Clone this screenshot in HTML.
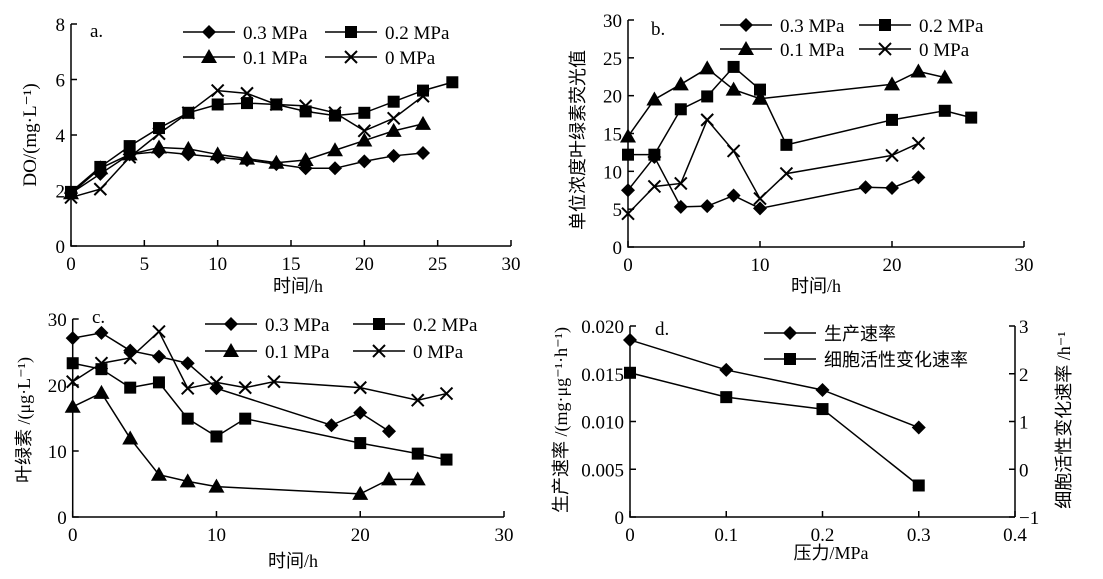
<!DOCTYPE html>
<html><head><meta charset="utf-8"><style>
body{margin:0;background:#fff}
svg text{font-family:"Liberation Serif","Noto Serif CJK SC",serif;fill:#000}
.cn{font-family:"Liberation Serif","Noto Sans CJK SC",sans-serif}
</style></head><body>
<svg id="c" width="1103" height="574" xmlns="http://www.w3.org/2000/svg"></svg>
<script>
// Panel a: DO
const aX_03=[0,2,4,6,8,10,12,14,16,18,20,22,24];
const aY_03=[1.9,2.6,3.3,3.4,3.3,3.2,3.1,2.95,2.8,2.8,3.05,3.25,3.35];
const aX_02=[0,2,4,6,8,10,12,14,16,18,20,22,24,26];
const aY_02=[1.95,2.85,3.6,4.25,4.8,5.1,5.15,5.1,4.85,4.7,4.8,5.2,5.6,5.9];
const aX_01=[0,2,4,6,8,10,12,14,16,18,20,22,24];
const aY_01=[1.9,2.8,3.3,3.55,3.5,3.3,3.15,3.0,3.1,3.45,3.8,4.15,4.4];
const aX_00=[0,2,4,6,8,10,12,14,16,18,20,22,24];
const aY_00=[1.75,2.05,3.2,4.05,4.8,5.6,5.5,5.1,5.05,4.8,4.15,4.6,5.4];
// Panel b
const bX_03=[0,2,4,6,8,10,18,20,22];
const bY_03=[7.5,11.9,5.3,5.4,6.8,5.1,7.9,7.8,9.2];
const bX_02=[0,2,4,6,8,10,12,20,24,26];
const bY_02=[12.2,12.2,18.2,19.9,23.8,20.8,13.5,16.8,18.0,17.1];
const bX_01=[0,2,4,6,8,10,20,22,24];
const bY_01=[14.6,19.5,21.5,23.6,20.8,19.6,21.5,23.2,22.4];
const bX_00=[0,2,4,6,8,10,12,20,22];
const bY_00=[4.4,8.0,8.4,16.8,12.7,6.4,9.7,12.1,13.7];
// Panel c
const cX_03=[0,2,4,6,8,10,18,20,22];
const cY_03=[27.1,27.9,25.2,24.3,23.3,19.5,13.9,15.8,13.0];
const cX_02=[0,2,4,6,8,10,12,20,24,26];
const cY_02=[23.3,22.4,19.6,20.4,14.9,12.2,14.9,11.2,9.6,8.7];
const cX_01=[0,2,4,6,8,10,20,22,24];
const cY_01=[16.7,18.8,11.9,6.4,5.4,4.6,3.5,5.7,5.7];
const cX_00=[0,2,4,6,8,10,12,14,20,24,26];
const cY_00=[20.5,23.3,24.1,28.1,19.5,20.4,19.6,20.5,19.6,17.7,18.7];
// Panel d
const dX=[0,0.1,0.2,0.3];
const dProd=[0.01854,0.0154,0.0133,0.00937];
const dAct=[2.02,1.51,1.26,-0.34];
// ticks
const aXT=[0,5,10,15,20,25,30], aYT=[0,2,4,6,8];
const bXT=[0,10,20,30], bYT=[0,5,10,15,20,25,30];
const cXT=[0,10,20,30], cYT=[0,10,20,30];
const dXT=[0,0.1,0.2,0.3,0.4], dYT=[0,0.005,0.010,0.015,0.020], dY2T=[-1,0,1,2,3];
const dXL=['0','0.1','0.2','0.3','0.4'], dYL=['0','0.005','0.010','0.015','0.020'];

const S=document.getElementById('c');const NS='http://www.w3.org/2000/svg';
const FS=19;
function el(t,a,p){const e=document.createElementNS(NS,t);for(const k in a)e.setAttribute(k,a[k]);(p||S).appendChild(e);return e;}
function txt(s,x,y,o,name){const e=el('text',Object.assign({x:x,y:y,'font-size':FS},o||{}));e.textContent=s;

return e;}
function lin(f){return (v)=>f.p0+(v-f.v0)*(f.p1-f.p0)/(f.v1-f.v0);}
function marker(g,type,x,y){let m;
 if(type==='d')m=el('polygon',{points:`${x},${y-7} ${x+7},${y} ${x},${y+7} ${x-7},${y}`},g);
 else if(type==='s')m=el('rect',{x:x-6,y:y-6,width:12,height:12},g);
 else if(type==='t')m=el('polygon',{points:`${x},${y-8} ${x+8},${y+6} ${x-8},${y+6}`},g);
 else {m=el('path',{d:`M${x-6},${y-6}L${x+6},${y+6}M${x+6},${y-6}L${x-6},${y+6}`,stroke:'#000','stroke-width':2},g);}
 
 
 if(type!=='x')m.setAttribute('fill','#000');}
function series(xs,ys,sx,sy,type,name){const g=el('g',{});
 
 
 el('polyline',{points:xs.map((v,i)=>sx(v)+','+sy(ys[i])).join(' '),fill:'none',stroke:'#000','stroke-width':1.5},g);
 xs.forEach((v,i)=>marker(g,type,sx(v),sy(ys[i])));}
function axes(x0,x1,y0,y1,sx,sy,xt,yt,xl,yl,pre){
 const g=el('g',{});
 
 
 el('path',{d:`M${x0},${y1}L${x0},${y0}L${x1},${y0}`,fill:'none',stroke:'#000','stroke-width':1.5},g);
 xt.forEach((v,i)=>{const x=sx(v);el('line',{x1:x,x2:x,y1:y0,y2:y0-6,stroke:'#000','stroke-width':1.5},g);
  txt(xl?xl[i]:String(v),x,y0+24,{'text-anchor':'middle'},pre+'-x-tick-label');});
 yt.forEach((v,i)=>{const y=sy(v);el('line',{x1:x0,x2:x0+6,y1:y,y2:y,stroke:'#000','stroke-width':1.5},g);
  txt(yl?yl[i]:String(v),x0-6,y+7,{'text-anchor':'end'},pre+'-y-tick-label');});}
function legend(items,lx,ly,name,cols){items.forEach((it,i)=>{const x=lx[i%cols],y=ly[Math.floor(i/cols)];
 const g=el('g',{});
 
 
 el('line',{x1:x,x2:x+52,y1:y,y2:y,stroke:'#000','stroke-width':1.5},g);marker(g,it[1],x+26,y);
 txt(it[0],x+60,y+7,{class:it[2]||'','font-size':it[2]?18:FS},name+'-label');});}
const L4=[['0.3 MPa','d'],['0.2 MPa','s'],['0.1 MPa','t'],['0 MPa','x']];

// a
let sx=lin({v0:0,v1:30,p0:71,p1:511}),sy=lin({v0:0,v1:8,p0:246,p1:24});
axes(71,511,246,24,sx,sy,aXT,aYT,null,null,'a');
series(aX_03,aY_03,sx,sy,'d','a-03');series(aX_02,aY_02,sx,sy,'s','a-02');series(aX_01,aY_01,sx,sy,'t','a-01');series(aX_00,aY_00,sx,sy,'x','a-00');
legend(L4,[183,325],[32,57],'a-legend',2);
txt('a.',90,37,{},'a-panel-label');
txt('时间/h',298,292,{'text-anchor':'middle',class:'cn','font-size':18},'a-x-title');
txt('DO/(mg·L⁻¹)',0,0,{'text-anchor':'middle',transform:'translate(36,135) rotate(-90)'},'a-y-title');
// b
sx=lin({v0:0,v1:30,p0:628,p1:1024});sy=lin({v0:0,v1:30,p0:247,p1:20});
axes(628,1024,247,20,sx,sy,bXT,bYT,null,null,'b');
series(bX_03,bY_03,sx,sy,'d','b-03');series(bX_02,bY_02,sx,sy,'s','b-02');series(bX_01,bY_01,sx,sy,'t','b-01');series(bX_00,bY_00,sx,sy,'x','b-00');
legend(L4,[720,859],[25,49],'b-legend',2);
txt('b.',651,35,{},'b-panel-label');
txt('时间/h',816,292,{'text-anchor':'middle',class:'cn','font-size':18},'b-x-title');
txt('单位浓度叶绿素荧光值',0,0,{'text-anchor':'middle',class:'cn','font-size':18,transform:'translate(584,140) rotate(-90)'},'b-y-title');
// c
sx=lin({v0:0,v1:30,p0:72.7,p1:504});sy=lin({v0:0,v1:30,p0:517,p1:319});
axes(72.7,504,517,319,sx,sy,cXT,cYT,null,null,'c');
series(cX_03,cY_03,sx,sy,'d','c-03');series(cX_02,cY_02,sx,sy,'s','c-02');series(cX_01,cY_01,sx,sy,'t','c-01');series(cX_00,cY_00,sx,sy,'x','c-00');
legend(L4,[205,353],[324,351],'c-legend',2);
txt('c.',92,323,{},'c-panel-label');
txt('时间/h',293,567,{'text-anchor':'middle',class:'cn','font-size':18},'c-x-title');
txt('叶绿素 /(μg·L⁻¹)',0,0,{'text-anchor':'middle',class:'cn','font-size':18,transform:'translate(30,420) rotate(-90)'},'c-y-title');
// d
sx=lin({v0:0,v1:0.4,p0:630,p1:1015});sy=lin({v0:0,v1:0.02,p0:517,p1:326});const sy2=lin({v0:-1,v1:3,p0:517,p1:326});
axes(630,1015,517,326,sx,sy,dXT,dYT,dXL,dYL,'d');
el('line',{x1:1015,x2:1015,y1:326,y2:517,stroke:'#000','stroke-width':1.5});
dY2T.forEach(v=>{const y=sy2(v);el('line',{x1:1015,x2:1009,y1:y,y2:y,stroke:'#000','stroke-width':1.5});txt(v<0?'−'+(-v):String(v),1019,y+7,{},'d-y2-tick-label');});
series(dX,dProd,sx,sy,'d','d-production-rate');series(dX,dAct,sx,sy2,'s','d-activity-rate');
legend([['生产速率','d','cn'],['细胞活性变化速率','s','cn']],[764],[333,359],'d-legend',1);
txt('d.',655,335,{},'d-panel-label');
txt('压力/MPa',831,559,{'text-anchor':'middle',class:'cn','font-size':18},'d-x-title');
txt('生产速率 /(mg·μg⁻¹·h⁻¹)',0,0,{'text-anchor':'middle',class:'cn','font-size':18,transform:'translate(567,420) rotate(-90)'},'d-y-title');
txt('细胞活性变化速率 /h⁻¹',0,0,{'text-anchor':'middle',class:'cn','font-size':18,transform:'translate(1070,420) rotate(-90)'},'d-y2-title');
</script>
</body></html>
